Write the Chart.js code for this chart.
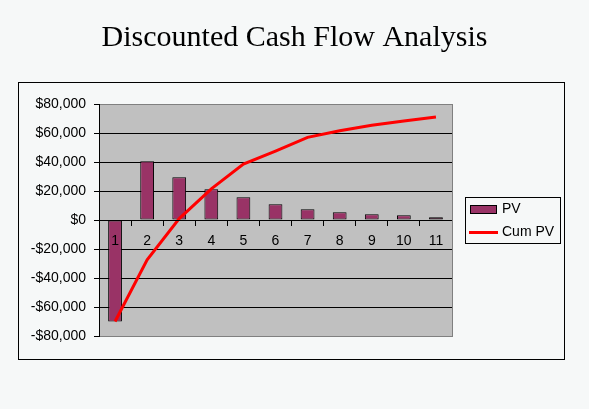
<!DOCTYPE html>
<html lang="en">
<head>
  <meta charset="UTF-8" />
  <title>Discounted Cash Flow Analysis</title>
  <script src="https://cdn.jsdelivr.net/npm/chart.js"></script>
  <style>
    body {
      margin: 0;
      background: #f6f8f8;
    }
    canvas {
      display: block;
    }
  </style>
</head>
<body>
  <canvas id="dcfChart" width="589" height="409"></canvas>

  <script>
    const periods = ["1", "2", "3", "4", "5", "6", "7", "8", "9", "10", "11"];
    const pv = [-70000, 40500, 29500, 21200, 15700, 10800, 7400, 5300, 3900, 3200, 1900];
    const cumPv = [-70000, -27500, 1000, 21500, 38500, 47500, 57000, 61500, 65300, 68200, 71000];
    const yTicks = [-80000, -60000, -40000, -20000, 0, 20000, 40000, 60000, 80000];

    function money(v) {
      const s = "$" + Math.abs(v).toLocaleString("en-US");
      return v < 0 ? "-" + s : s;
    }

    // grey plot area, outer frame and the boxed legend
    const frame = {
      id: "frame",
      afterLayout(chart) {
        // centre the title over the whole page, not just the plot
        if (chart.titleBlock) {
          chart.titleBlock.left = 0;
          chart.titleBlock.right = chart.width;
          chart.titleBlock.width = chart.width;
        }
      },
      beforeDraw(chart) {
        const c = chart.ctx;
        const a = chart.chartArea;
        c.save();
        c.fillStyle = "#f6f8f8";
        c.fillRect(0, 0, chart.width, chart.height);
        c.strokeStyle = "#000";
        c.lineWidth = 1;
        c.strokeRect(18.5, 82.5, 546, 277);
        c.fillStyle = "#c0c0c0";
        c.fillRect(a.left, a.top, a.right - a.left, a.bottom - a.top);
        c.restore();
      },
      afterDraw(chart) {
        const c = chart.ctx;
        const a = chart.chartArea;
        c.save();
        c.strokeStyle = "#808080";
        c.lineWidth = 1;
        c.beginPath();
        c.moveTo(a.right + 0.5, a.top);
        c.lineTo(a.right + 0.5, a.bottom + 1);
        c.stroke();

        // legend
        const ds = chart.data.datasets;
        c.fillStyle = "#f6f8f8";
        c.fillRect(465, 197, 96, 47);
        c.strokeStyle = "#000";
        c.strokeRect(465.5, 197.5, 95, 46);
        c.fillStyle = ds[0].backgroundColor;
        c.fillRect(470, 205, 26, 9);
        c.strokeRect(470.5, 205.5, 26, 8);
        c.strokeStyle = ds[1].borderColor;
        c.lineWidth = 3;
        c.beginPath();
        c.moveTo(469, 232.5);
        c.lineTo(498, 232.5);
        c.stroke();
        c.fillStyle = "#000";
        c.font = "14px Arial, 'Liberation Sans', sans-serif";
        c.textBaseline = "middle";
        c.fillText(ds[0].label, 502, 209);
        c.fillText(ds[1].label, 502, 232);
        c.restore();
      }
    };

    new Chart(document.getElementById("dcfChart"), {
      type: "bar",
      data: {
        labels: periods,
        datasets: [
          {
            type: "bar",
            label: "PV",
            data: pv,
            backgroundColor: "#993366",
            borderColor: "#000",
            borderWidth: 1,
            borderSkipped: false,
            barPercentage: 0.43,
            categoryPercentage: 1,
            order: 1
          },
          {
            type: "line",
            label: "Cum PV",
            data: cumPv,
            borderColor: "#ff0000",
            borderWidth: 3,
            pointRadius: 0,
            tension: 0,
            fill: false,
            order: 0
          }
        ]
      },
      options: {
        responsive: false,
        animation: false,
        layout: {
          padding: { left: 0, right: 137, top: 0, bottom: 73 }
        },
        plugins: {
          legend: { display: false },
          tooltip: { enabled: false },
          title: {
            display: true,
            text: "Discounted Cash Flow Analysis",
            color: "#000",
            font: { family: "'Times New Roman', 'Liberation Serif', serif", size: 30, weight: "normal" },
            padding: { top: 20, bottom: 48 }
          }
        },
        scales: {
          x: {
            position: { y: 0 },
            afterFit(s) { s.height = 0; },
            grid: {
              offset: true,
              drawOnChartArea: false,
              tickLength: 5,
              color: "#000"
            },
            border: { color: "#000", width: 1, z: 1 },
            ticks: {
              z: 2,
              color: "#000",
              padding: 8,
              maxRotation: 0,
              font: { family: "Arial, 'Liberation Sans', sans-serif", size: 14 }
            }
          },
          y: {
            min: yTicks[0],
            max: yTicks[yTicks.length - 1],
            afterFit(s) { s.width = 99; },
            afterBuildTicks(s) { s.ticks = yTicks.map(v => ({ value: v })); },
            grid: {
              color: ctx => (ctx.tick && Math.abs(ctx.tick.value) === 80000) ? "#808080" : "#000",
              tickColor: "#000",
              tickLength: 5
            },
            border: { color: "#000", width: 1 },
            ticks: {
              color: "#000",
              padding: 8,
              font: { family: "Arial, 'Liberation Sans', sans-serif", size: 14 },
              callback: v => money(v)
            }
          }
        }
      },
      plugins: [frame]
    });
  </script>
</body>
</html>
